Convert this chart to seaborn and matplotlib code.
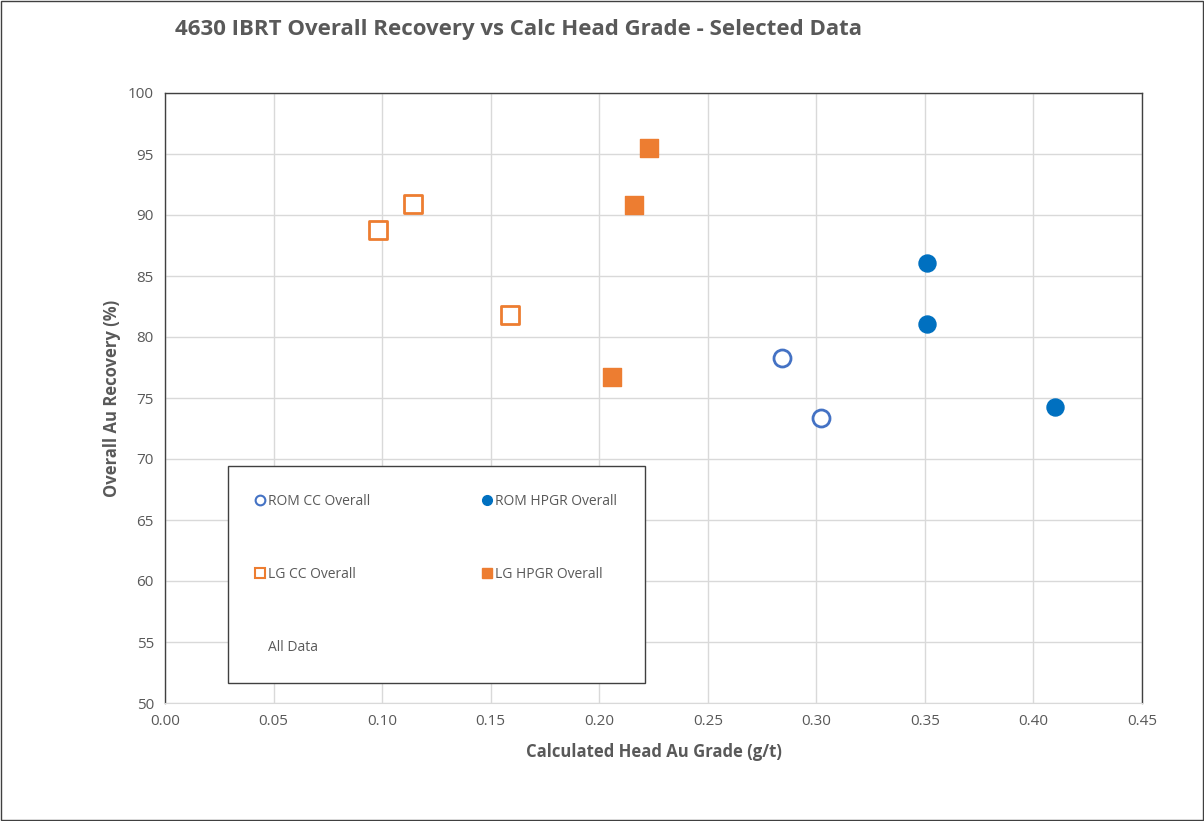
import matplotlib
matplotlib.use("Agg")
import matplotlib.pyplot as plt
import seaborn as sns
import pandas as pd
from matplotlib.lines import Line2D

# data
rom_cc_x = [0.284, 0.302]
rom_cc_y = [78.3, 73.4]
rom_hpgr_x = [0.351, 0.351, 0.410]
rom_hpgr_y = [86.1, 81.1, 74.3]
lg_cc_x = [0.098, 0.114, 0.159]
lg_cc_y = [88.8, 90.9, 81.8]
lg_hpgr_x = [0.223, 0.216, 0.206]
lg_hpgr_y = [95.5, 90.8, 76.7]

sns.set_style("white")
plt.rcParams['font.family'] = ['Open Sans', 'DejaVu Sans']
txt = '#595959'

fig = plt.figure(figsize=(12.04, 8.21), dpi=100)
ax = fig.add_axes([165/1204, 1-703/821, 977/1204, 610/821])

blue = '#0070C0'
blue_open = '#4472C4'
orange = '#ED7D31'

df = pd.DataFrame({'x': rom_cc_x, 'y': rom_cc_y})
sns.scatterplot(data=df, x='x', y='y', ax=ax, marker='o', s=150,
                facecolor='white', edgecolor=blue_open, linewidth=2, zorder=3)
df = pd.DataFrame({'x': rom_hpgr_x, 'y': rom_hpgr_y})
sns.scatterplot(data=df, x='x', y='y', ax=ax, marker='o', s=150,
                color=blue, edgecolor=blue, linewidth=1, zorder=3)
df = pd.DataFrame({'x': lg_cc_x, 'y': lg_cc_y})
sns.scatterplot(data=df, x='x', y='y', ax=ax, marker='s', s=150,
                facecolor='white', edgecolor=orange, linewidth=2, zorder=3)
df = pd.DataFrame({'x': lg_hpgr_x, 'y': lg_hpgr_y})
sns.scatterplot(data=df, x='x', y='y', ax=ax, marker='s', s=150,
                color=orange, edgecolor=orange, linewidth=1, zorder=3)

ax.set_xlim(0, 0.45)
ax.set_ylim(50, 100)
ax.set_xticks([i * 0.05 for i in range(10)])
ax.set_xticklabels([f"{i*0.05:.2f}" for i in range(10)])
ax.set_yticks(range(50, 101, 5))
ax.grid(True, color='#D9D9D9', linewidth=1)
ax.set_axisbelow(True)
for s in ['top', 'right', 'left']:
    ax.spines[s].set_color('#404040')
    ax.spines[s].set_linewidth(1)
ax.spines['bottom'].set_color('#D9D9D9')
ax.tick_params(axis='both', length=0, labelsize=11, colors=txt, pad=8)

ax.set_xlabel("Calculated Head Au Grade (g/t)", fontsize=12, fontweight='bold', color=txt, labelpad=10)
ax.set_ylabel("Overall Au Recovery (%)", fontsize=12, fontweight='bold', color=txt, labelpad=5)

fig.text(175/1204, 1-30/821, "4630 IBRT Overall Recovery vs Calc Head Grade - Selected Data",
         fontsize=16, fontweight='bold', color=txt, va='center', ha='left')

handles = [
    Line2D([], [], marker='o', ls='', markersize=7, markerfacecolor='white', markeredgecolor=blue_open, markeredgewidth=1.5),
    Line2D([], [], marker='s', ls='', markersize=7, markerfacecolor='white', markeredgecolor=orange, markeredgewidth=1.5),
    Line2D([], [], ls='', marker=''),
    Line2D([], [], marker='o', ls='', markersize=7, markerfacecolor=blue, markeredgecolor=blue),
    Line2D([], [], marker='s', ls='', markersize=7, markerfacecolor=orange, markeredgecolor=orange),
]
labels = ['ROM CC Overall', 'LG CC Overall', 'All Data', 'ROM HPGR Overall', 'LG HPGR Overall']
leg = ax.legend(handles, labels, ncol=2, loc='lower left',
                bbox_to_anchor=(63/977, 20/610, 417/977, 216/610), mode='expand',
                fontsize=10, labelcolor=txt, frameon=True, fancybox=False,
                edgecolor='#404040', framealpha=1, handlelength=0.6, handletextpad=0.3,
                labelspacing=4.2, borderpad=2.0, borderaxespad=0)
leg.get_frame().set_linewidth(1)

# outer border
fig.patches.append(plt.Rectangle((0.001, 0.001), 0.998, 0.998, transform=fig.transFigure,
                                 fill=False, edgecolor='#404040', linewidth=1))

fig.savefig("out.png", dpi=100)
